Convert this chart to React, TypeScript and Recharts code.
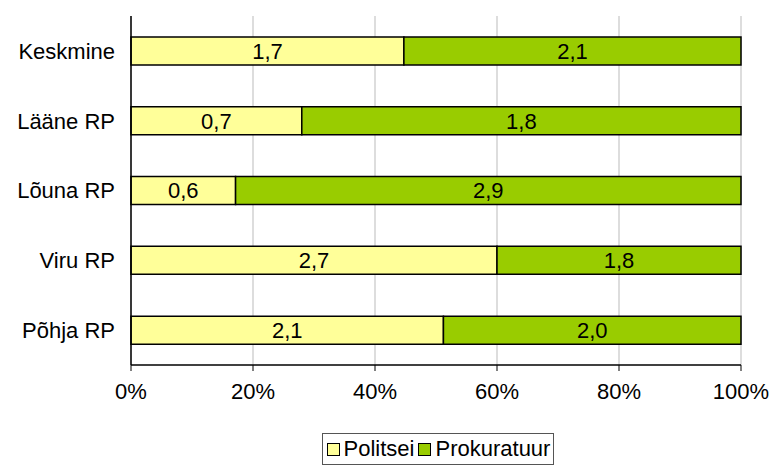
import React from 'react';
import { BarChart, Bar, XAxis, YAxis, CartesianGrid, Legend, LabelList } from 'recharts';

const regions = ['Keskmine', 'Lääne RP', 'Lõuna RP', 'Viru RP', 'Põhja RP'];
const politsei = [1.7, 0.7, 0.6, 2.7, 2.1];
const prokuratuur = [2.1, 1.8, 2.9, 1.8, 2.0];
const percentTicks = [0, 0.2, 0.4, 0.6, 0.8, 1];

const rows = regions.map((name, i) => ({ name, politsei: politsei[i], prokuratuur: prokuratuur[i] }));

const FONT = 'Liberation Sans, Arial, sans-serif';
const YELLOW = '#FFFF99';
const GREEN = '#99CC00';

const fmt = (v: number) => v.toFixed(1).replace('.', ',');

function barLabel(values: number[]) {
  return (props: any) => {
    const { x, y, width, height, index } = props;
    return (
      <text
        x={Number(x) + Number(width) / 2}
        y={Number(y) + Number(height) / 2}
        dy="0.36em"
        textAnchor="middle"
        fontSize={22}
        fontFamily={FONT}
        fill="#000"
      >
        {fmt(values[index])}
      </text>
    );
  };
}

function LegendBox() {
  const items = [
    { label: 'Politsei', color: YELLOW },
    { label: 'Prokuratuur', color: GREEN },
  ];
  return (
    <div style={{ display: 'flex', justifyContent: 'center', paddingLeft: 135, paddingTop: 8 }}>
      <div
        style={{
          display: 'flex',
          alignItems: 'center',
          border: '1px solid #555',
          padding: '2px 3px 2px 4px',
          fontFamily: FONT,
          fontSize: 22,
          gap: 4,
          lineHeight: '26px',
        }}
      >
        {items.map(it => (
          <span key={it.label} style={{ display: 'flex', alignItems: 'center' }}>
            <span
              style={{
                display: 'inline-block',
                width: 11,
                height: 11,
                background: it.color,
                border: '1.5px solid #000',
                marginRight: 4,
              }}
            />
            {it.label}
          </span>
        ))}
      </div>
    </div>
  );
}

export default function App() {
  return (
    <div style={{ position: 'absolute', left: 0, top: 0, width: 772, height: 471, background: '#fff' }}>
      <BarChart
        width={772}
        height={471}
        data={rows}
        layout="vertical"
        stackOffset="expand"
        barCategoryGap="30%"
        margin={{ top: 16, right: 31, bottom: 6, left: 0 }}
      >
        <CartesianGrid horizontal={false} stroke="#BBBBBB" />
        <XAxis
          xAxisId="top"
          orientation="top"
          type="number"
          domain={[0, 1]}
          height={0}
          tick={false}
          tickLine={false}
          axisLine={{ stroke: '#999999' }}
        />
        <XAxis
          type="number"
          domain={[0, 1]}
          ticks={percentTicks}
          tickFormatter={v => `${Math.round(v * 100)}%`}
          axisLine={{ stroke: '#000', strokeWidth: 1.5 }}
          tickLine={{ stroke: '#000' }}
          tickSize={6}
          tickMargin={12}
          height={60}
          tick={{ fontSize: 22, fontFamily: FONT, fill: '#000' }}
          interval={0}
        />
        <YAxis
          type="category"
          dataKey="name"
          width={131}
          axisLine={{ stroke: '#000', strokeWidth: 1.5 }}
          tickLine={false}
          tickMargin={10}
          tick={{ fontSize: 22, fontFamily: FONT, fill: '#000' }}
        />
        <Legend verticalAlign="bottom" height={40} content={() => <LegendBox />} />
        <Bar dataKey="politsei" stackId="a" fill={YELLOW} stroke="#000" strokeWidth={1.5} isAnimationActive={false}>
          <LabelList dataKey="politsei" content={barLabel(politsei)} />
        </Bar>
        <Bar dataKey="prokuratuur" stackId="a" fill={GREEN} stroke="#000" strokeWidth={1.5} isAnimationActive={false}>
          <LabelList dataKey="prokuratuur" content={barLabel(prokuratuur)} />
        </Bar>
      </BarChart>
    </div>
  );
}
